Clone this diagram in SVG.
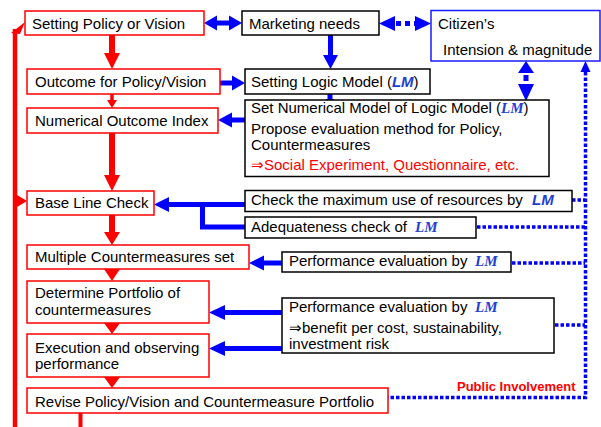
<svg xmlns="http://www.w3.org/2000/svg" width="601" height="427" viewBox="0 0 601 427">
<style>
text{font-family:"Liberation Sans",Arial,sans-serif;font-size:15px;fill:#000}
.rb{fill:#fff;stroke:#f00;stroke-width:1.5}
.bb{fill:#fff;stroke:#000;stroke-width:1.5}
.cb{fill:#fff;stroke:#1a1aff;stroke-width:1.5}
.lm{font-family:"Liberation Serif","Times New Roman",serif;font-weight:bold;font-style:italic;fill:#1f3fcf}
.lms{font-weight:bold;font-style:italic;fill:#1f3fcf}
.red{fill:#f00}
.rs{stroke:#f00;fill:none}
.rh{fill:#f00;stroke:none}
.bs{stroke:#0000ff;fill:none;stroke-width:5}
.bh{fill:#0000ff;stroke:none}
.dot{stroke:#0000ff;fill:none;stroke-width:3.5;stroke-dasharray:3.5 2}
.pi{font-weight:bold;font-size:13px;fill:#f00}
</style>
<g id="connectors">
<line class="rs" x1="15" y1="29" x2="15" y2="427" stroke-width="4.5"/>
<polygon class="rh" points="11,33 25,22 20,34"/>
<polygon class="rh" points="17,195 27,201 17,207"/>
<line class="rs" x1="80.5" y1="413" x2="80.5" y2="427" stroke-width="4"/>
<line class="rs" x1="112" y1="35" x2="112" y2="54" stroke-width="6"/>
<polygon class="rh" points="104,53 120,53 112,69"/>
<line class="rs" x1="112" y1="94" x2="112" y2="101" stroke-width="3.5"/>
<polygon class="rh" points="107,100 117,100 112,108"/>
<line class="rs" x1="112" y1="133" x2="112" y2="176" stroke-width="6"/>
<polygon class="rh" points="104,175 120,175 112,191"/>
<line class="rs" x1="112" y1="215" x2="112" y2="233" stroke-width="6"/>
<polygon class="rh" points="104,232 120,232 112,245"/>
<polygon class="rh" points="104,269 120,269 112,281"/>
<polygon class="rh" points="104,323 120,323 112,334"/>
<polygon class="rh" points="104,377 120,377 112,388"/>
<line class="bs" x1="216" y1="23" x2="230" y2="23" stroke-width="6"/>
<polygon class="bh" points="204,23 217,15.5 217,30.5"/>
<polygon class="bh" points="242,23 229,15.5 229,30.5"/>
<line class="bs" x1="220" y1="83" x2="234" y2="83" stroke-width="6"/>
<polygon class="bh" points="245,83 232,75.5 232,90.5"/>
<line class="bs" x1="245" y1="120" x2="231" y2="120" stroke-width="6"/>
<polygon class="bh" points="218,120 232,112.5 232,127.5"/>
<line class="bs" x1="330.5" y1="35" x2="330.5" y2="56"/>
<polygon class="bh" points="323,55 338,55 330.5,69"/>
<line class="bs" x1="330" y1="94" x2="330" y2="100" stroke-width="4"/>
<polygon class="bh" points="326,99 334,99 330,108"/>
<line class="bs" x1="245" y1="204.5" x2="166" y2="204.5"/>
<polygon class="bh" points="154,204.5 169,197 169,212"/>
<polyline class="bs" points="202.5,204.5 202.5,227 245,227"/>
<line class="bs" x1="282" y1="263" x2="262" y2="263"/>
<polygon class="bh" points="249,263 264,255.5 264,270.5"/>
<line class="bs" x1="282" y1="312.5" x2="222" y2="312.5"/>
<polygon class="bh" points="209,312.5 225,305 225,320"/>
<line class="bs" x1="282" y1="348.5" x2="222" y2="348.5"/>
<polygon class="bh" points="209,348.5 225,341 225,356"/>
<line class="bs" x1="396" y1="23.5" x2="418" y2="23.5" stroke-width="6" stroke-dasharray="5 4"/>
<polygon class="bh" points="379,23.5 395,16 395,31"/>
<polygon class="bh" points="431,23.5 415,16 415,31"/>
<polygon class="bh" points="526,61 534,73 518,73"/>
<line class="bs" x1="526" y1="75" x2="526" y2="81" stroke-width="7"/>
<polygon class="bh" points="526,101 534,84 518,84"/>
<polygon class="bh" points="585.5,61 590.5,72 580.5,72"/>
<polyline class="dot" points="585.5,72 585.5,397.5 388,397.5"/>
<line class="dot" x1="572" y1="200" x2="585" y2="200"/>
<line class="dot" x1="477" y1="227" x2="585" y2="227"/>
<line class="dot" x1="512" y1="263" x2="585" y2="263"/>
<line class="dot" x1="555" y1="325" x2="585" y2="325"/>
</g>
<g id="n1"><rect class="rb" x="25" y="11" width="179" height="24"/><text x="32" y="29">Setting Policy or Vision</text></g>
<g id="n2"><rect class="bb" x="242" y="11" width="137" height="24"/><text x="249" y="29">Marketing needs</text></g>
<g id="n3"><rect class="cb" x="431" y="10.5" width="169" height="50.5"/><text x="438" y="29">Citizen’s<tspan x="443" y="55">Intension &amp; magnitude</tspan></text></g>
<g id="n4"><rect class="rb" x="27" y="69" width="193" height="25"/><text x="35" y="87">Outcome for Policy/Vision</text></g>
<g id="n5"><rect class="bb" x="245" y="69" width="185" height="25"/><text x="251" y="87">Setting Logic Model (<tspan class="lms">LM</tspan>)</text></g>
<g id="n6"><rect class="rb" x="27" y="108" width="191" height="25"/><text x="35" y="126">Numerical Outcome Index</text></g>
<g id="n7"><rect class="bb" x="245" y="100" width="304" height="76.5"/><text x="251" y="113">Set Numerical Model of Logic Model (<tspan class="lm">LM</tspan>)</text><text x="251" y="134">Propose evaluation method for Policy,<tspan x="251" y="150">Countermeasures</tspan></text><text class="red" x="251" y="170">⇒Social Experiment, Questionnaire, etc.</text></g>
<g id="n8"><rect class="rb" x="27" y="191" width="127" height="24"/><text x="35" y="208">Base Line Check</text></g>
<g id="n9"><rect class="bb" x="245" y="190.5" width="327" height="21"/><text x="251" y="205">Check the maximum use of resources by <tspan class="lms" x="532">LM</tspan></text></g>
<g id="n10"><rect class="bb" x="245" y="217" width="231" height="21"/><text x="251" y="232">Adequateness check of <tspan class="lm" x="415">LM</tspan></text></g>
<g id="n11"><rect class="rb" x="27" y="245" width="222" height="24"/><text x="35" y="262">Multiple Countermeasures set</text></g>
<g id="n12"><rect class="bb" x="282" y="252" width="229" height="20"/><text x="289" y="266">Performance evaluation by <tspan class="lm" x="475">LM</tspan></text></g>
<g id="n13"><rect class="rb" x="27" y="281" width="182" height="42"/><text x="35" y="298">Determine Portfolio of<tspan x="35" y="315">countermeasures</tspan></text></g>
<g id="n14"><rect class="bb" x="282" y="298" width="272" height="55"/><text x="289" y="312">Performance evaluation by <tspan class="lm" x="475">LM</tspan></text><text x="289" y="333">⇒benefit per cost, sustainability,<tspan x="289" y="349">investment risk</tspan></text></g>
<g id="n15"><rect class="rb" x="27" y="334" width="182" height="43"/><text x="35" y="353">Execution and observing<tspan x="35" y="369">performance</tspan></text></g>
<g id="n16"><rect class="rb" x="27" y="388" width="361" height="25"/><text x="35" y="407">Revise Policy/Vision and Countermeasure Portfolio</text></g>
<text class="pi" x="457" y="391">Public Involvement</text>
</svg>
